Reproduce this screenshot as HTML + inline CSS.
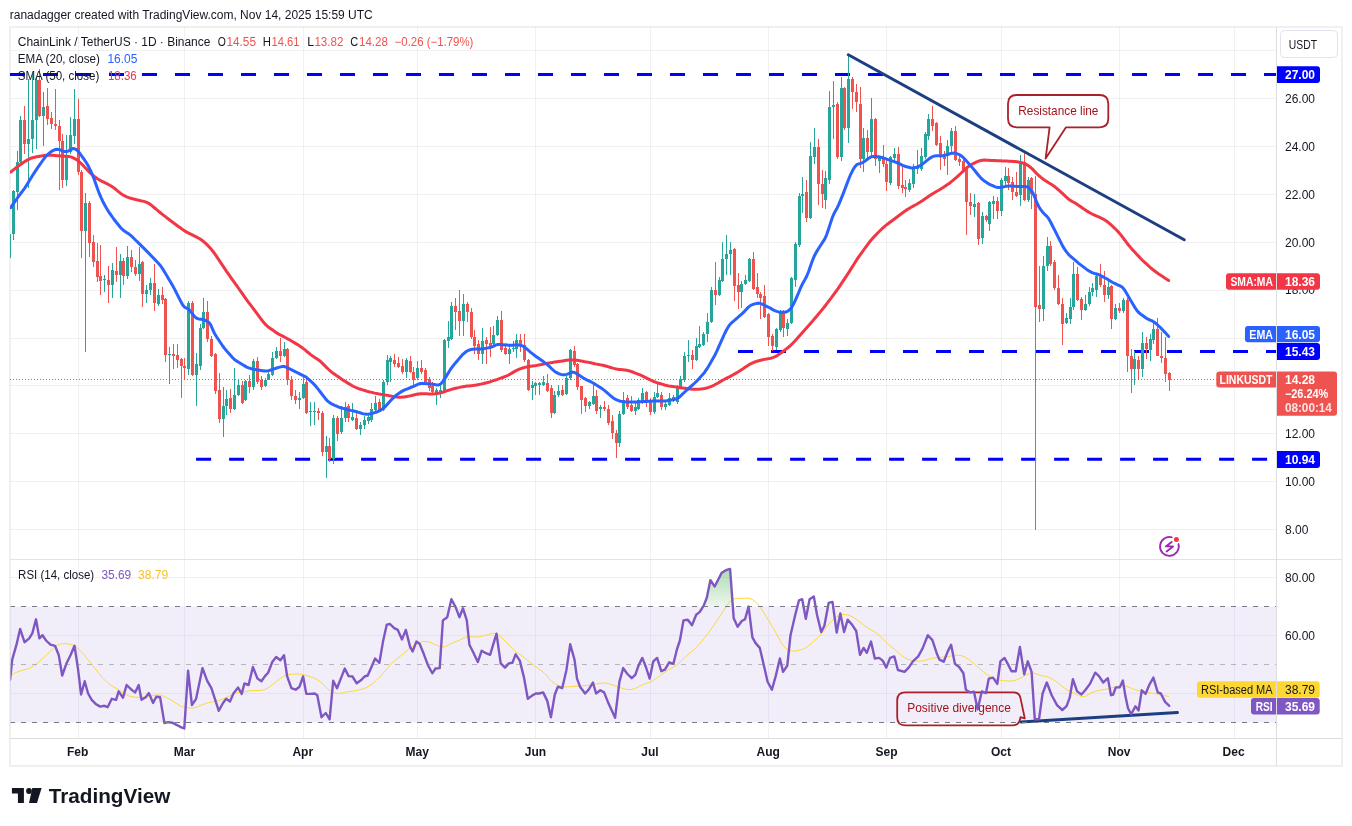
<!DOCTYPE html>
<html><head><meta charset="utf-8"><title>LINKUSDT chart</title>
<style>html,body{margin:0;padding:0;background:#fff;}body{width:1352px;height:826px;overflow:hidden;position:relative;}</style>
</head><body>
<svg width="1352" height="826" viewBox="0 0 1352 826" style="position:absolute;left:0;top:0;will-change:transform" font-family='"Liberation Sans", Arial, sans-serif'><defs><clipPath id="cp"><rect x="10" y="27.0" width="1266.0" height="532.0"/></clipPath><clipPath id="cr"><rect x="10.5" y="560.0" width="1265.5" height="178.0"/></clipPath><linearGradient id="ob" x1="0" y1="0" x2="0" y2="1"><stop offset="0" stop-color="#4caf50" stop-opacity="0.45"/><stop offset="1" stop-color="#4caf50" stop-opacity="0"/></linearGradient></defs><rect x="0" y="0" width="1352" height="826" fill="#fff"/><rect x="10" y="27" width="1332" height="739" fill="none" stroke="#f0f0f0" stroke-width="2"/><path d="M78.5 26.5V738.5 M184.5 26.5V738.5 M303.5 26.5V738.5 M417.5 26.5V738.5 M535.5 26.5V738.5 M650.5 26.5V738.5 M768.5 26.5V738.5 M886.5 26.5V738.5 M1001.5 26.5V738.5 M1119.5 26.5V738.5 M1234.5 26.5V738.5 M10 529.5H1276.5 M10 481.5H1276.5 M10 433.5H1276.5 M10 385.5H1276.5 M10 338.5H1276.5 M10 290.5H1276.5 M10 242.5H1276.5 M10 194.5H1276.5 M10 146.5H1276.5 M10 98.5H1276.5 M10 50.5H1276.5 M10 577.5H1276.5 M10 635.5H1276.5 M10 693.5H1276.5" stroke="#2a2e39" stroke-opacity="0.065" stroke-width="1" fill="none"/><rect x="10" y="606.5" width="1266.5" height="116.0" fill="#7e57c2" fill-opacity="0.1"/><path d="M78.5 606.5V722.5 M184.5 606.5V722.5 M303.5 606.5V722.5 M417.5 606.5V722.5 M535.5 606.5V722.5 M650.5 606.5V722.5 M768.5 606.5V722.5 M886.5 606.5V722.5 M1001.5 606.5V722.5 M1119.5 606.5V722.5 M1234.5 606.5V722.5" stroke="#e6e1f2" stroke-width="1"/><path d="M10 635.5H1276.5 M10 693.5H1276.5" stroke="#e6e1f2" stroke-width="1"/><g clip-path="url(#cp)"><line x1="10" y1="74.5" x2="1276.5" y2="74.5" stroke="#0000ff" stroke-width="3" stroke-dasharray="15 18"/><line x1="738" y1="351.5" x2="1276.5" y2="351.5" stroke="#0000ff" stroke-width="3" stroke-dasharray="15 18"/><line x1="196.1" y1="459.3" x2="1276.5" y2="459.3" stroke="#0000ff" stroke-width="3" stroke-dasharray="15 18"/><line x1="10" y1="379.5" x2="1276.5" y2="379.5" stroke="#ef5350" stroke-width="1" stroke-dasharray="1 2"/><path d="M9.5 232V258 M13.5 190V240 M17.5 151V210 M20.5 116V163 M28.5 79V188 M32.5 74V153 M36.5 77V149 M43.5 92V146 M66.5 135V186 M70.5 117V154 M74.5 89V144 M85.5 193V352 M104.5 275V292 M112.5 263V298 M120.5 254V298 M127.5 246V279 M139.5 247V281 M146.5 285V303 M150.5 278V295 M158.5 289V306 M169.5 347V384 M188.5 301V375 M196.5 353V406 M200.5 324V370 M203.5 298V329 M223.5 387V437 M226.5 390V415 M234.5 368V410 M238.5 380V396 M245.5 380V401 M253.5 359V390 M265.5 378V387 M268.5 372V380 M272.5 352V376 M276.5 347V359 M284.5 342V357 M299.5 392V409 M303.5 376V399 M310.5 402V426 M314.5 402V425 M326.5 436V478 M333.5 415V464 M341.5 406V434 M345.5 402V422 M352.5 403V421 M360.5 422V435 M364.5 416V429 M368.5 415V424 M371.5 403V422 M375.5 396V411 M383.5 380V411 M387.5 355V385 M390.5 356V382 M406.5 358V378 M417.5 361V380 M436.5 388V405 M440.5 383V398 M444.5 339V392 M448.5 321V348 M451.5 302V340 M463.5 294V336 M482.5 328V364 M493.5 326V346 M497.5 316V336 M509.5 346V364 M513.5 341V352 M516.5 334V358 M532.5 381V400 M535.5 382V395 M539.5 382V395 M543.5 376V386 M554.5 391V414 M558.5 385V397 M566.5 376V395 M570.5 349V380 M589.5 401V409 M593.5 382V405 M600.5 405V418 M619.5 411V447 M623.5 392V415 M635.5 402V415 M638.5 398V410 M642.5 388V404 M654.5 392V414 M657.5 384V398 M665.5 402V410 M669.5 393V406 M677.5 385V404 M680.5 376V389 M684.5 352V382 M688.5 340V362 M696.5 338V361 M699.5 326V348 M703.5 332V346 M707.5 313V342 M711.5 287V323 M719.5 277V296 M722.5 242V282 M726.5 235V275 M730.5 242V275 M741.5 281V308 M745.5 275V285 M749.5 258V282 M776.5 328V350 M780.5 310V332 M787.5 319V336 M791.5 277V324 M795.5 242V287 M799.5 193V247 M802.5 177V213 M810.5 142V219 M814.5 128V164 M825.5 171V209 M829.5 91V184 M833.5 81V139 M841.5 77V161 M848.5 54V143 M863.5 128V172 M871.5 98V158 M879.5 157V173 M890.5 156V185 M894.5 148V162 M909.5 179V192 M913.5 164V188 M917.5 150V174 M921.5 148V171 M925.5 132V159 M928.5 114V140 M947.5 140V175 M951.5 128V152 M974.5 194V217 M982.5 212V244 M989.5 201V231 M993.5 196V219 M1001.5 178V216 M1005.5 167V185 M1020.5 155V206 M1028.5 177V202 M1043.5 256V321 M1047.5 237V271 M1066.5 313V324 M1070.5 298V324 M1073.5 262V310 M1085.5 295V311 M1089.5 287V306 M1092.5 283V296 M1096.5 273V297 M1108.5 278V299 M1115.5 304V320 M1123.5 298V313 M1134.5 351V385 M1142.5 332V377 M1150.5 334V361 M1153.5 322V344" stroke="#26a69a" stroke-width="1"/><path d="M24.5 106V154 M39.5 69V117 M47.5 88V125 M51.5 112V129 M55.5 89V130 M59.5 120V190 M62.5 134V188 M78.5 99V175 M81.5 170V258 M89.5 201V257 M93.5 235V267 M97.5 243V282 M100.5 245V295 M108.5 266V303 M116.5 247V282 M123.5 258V285 M131.5 250V272 M135.5 260V276 M142.5 261V307 M154.5 264V311 M162.5 287V304 M165.5 298V362 M173.5 344V369 M177.5 344V368 M181.5 358V398 M184.5 358V379 M192.5 301V376 M207.5 301V342 M211.5 336V357 M215.5 353V394 M219.5 373V423 M230.5 389V413 M242.5 381V404 M249.5 375V393 M257.5 357V384 M261.5 376V390 M280.5 338V362 M287.5 348V385 M291.5 376V400 M295.5 390V404 M306.5 377V414 M318.5 408V420 M322.5 411V456 M329.5 438V462 M337.5 416V441 M348.5 404V422 M356.5 413V430 M379.5 399V410 M394.5 354V367 M398.5 357V368 M402.5 359V374 M410.5 356V373 M413.5 367V388 M421.5 360V374 M425.5 368V383 M429.5 377V391 M432.5 382V395 M455.5 298V330 M459.5 290V336 M467.5 302V322 M471.5 308V339 M474.5 330V354 M478.5 340V360 M486.5 337V364 M490.5 327V357 M501.5 311V352 M505.5 343V355 M520.5 334V352 M524.5 334V362 M528.5 359V391 M547.5 374V392 M551.5 385V418 M562.5 385V396 M574.5 346V367 M577.5 363V390 M581.5 386V414 M585.5 397V412 M596.5 390V414 M604.5 401V411 M608.5 405V425 M612.5 415V439 M616.5 430V458 M627.5 395V409 M631.5 396V412 M646.5 391V407 M650.5 398V415 M661.5 392V410 M673.5 395V402 M692.5 350V369 M715.5 262V305 M734.5 248V301 M738.5 273V309 M753.5 252V290 M757.5 273V298 M760.5 292V319 M764.5 285V318 M768.5 313V346 M772.5 334V351 M783.5 310V337 M806.5 180V222 M818.5 139V205 M822.5 170V208 M837.5 102V159 M844.5 87V130 M852.5 77V109 M856.5 84V112 M860.5 87V168 M867.5 130V159 M875.5 118V166 M883.5 145V167 M886.5 158V191 M898.5 147V189 M902.5 164V193 M905.5 180V197 M932.5 106V131 M936.5 122V146 M940.5 136V170 M944.5 151V166 M955.5 126V161 M959.5 155V166 M963.5 159V171 M966.5 166V235 M970.5 193V215 M978.5 202V245 M986.5 215V222 M997.5 197V219 M1008.5 168V190 M1012.5 177V200 M1016.5 172V197 M1024.5 153V201 M1031.5 177V209 M1035.5 176V530 M1039.5 266V322 M1050.5 241V266 M1054.5 260V290 M1058.5 275V305 M1062.5 298V345 M1077.5 267V301 M1081.5 297V320 M1100.5 264V287 M1104.5 271V302 M1111.5 285V329 M1119.5 303V313 M1127.5 298V372 M1131.5 349V393 M1138.5 356V380 M1146.5 337V359 M1157.5 318V356 M1161.5 332V363 M1165.5 337V382 M1169.5 372V391" stroke="#ef5350" stroke-width="1"/><path d="M8 234h3v24h-3z M12 191h3v43h-3z M16 162h3v30h-3z M19 120h3v42h-3z M27 139h3v5h-3z M31 120h3v19h-3z M35 80h3v40h-3z M42 107h3v9h-3z M65 155h3v25h-3z M69 135h3v17h-3z M73 119h3v17h-3z M84 203h3v28h-3z M103 279h3v1h-3z M111 270h3v15h-3z M119 261h3v14h-3z M126 257h3v19h-3z M138 264h3v10h-3z M145 290h3v4h-3z M149 283h3v7h-3z M157 295h3v9h-3z M168 354h3v1h-3z M187 303h3v66h-3z M195 364h3v11h-3z M199 328h3v38h-3z M202 312h3v16h-3z M222 406h3v13h-3z M225 399h3v7h-3z M233 395h3v14h-3z M237 385h3v10h-3z M244 381h3v19h-3z M252 361h3v26h-3z M264 380h3v6h-3z M267 374h3v6h-3z M271 358h3v17h-3z M275 351h3v7h-3z M283 349h3v7h-3z M298 398h3v2h-3z M302 384h3v14h-3z M309 411h3v1h-3z M313 411h3v1h-3z M325 446h3v6h-3z M332 418h3v41h-3z M340 418h3v14h-3z M344 407h3v11h-3z M351 417h3v3h-3z M359 425h3v4h-3z M363 420h3v5h-3z M367 417h3v4h-3z M370 409h3v11h-3z M374 403h3v7h-3z M382 382h3v28h-3z M386 360h3v22h-3z M389 358h3v4h-3z M405 360h3v12h-3z M416 368h3v10h-3z M435 390h3v5h-3z M439 390h3v2h-3z M443 340h3v51h-3z M447 337h3v4h-3z M450 306h3v33h-3z M462 304h3v17h-3z M481 341h3v13h-3z M492 335h3v9h-3z M496 320h3v15h-3z M508 349h3v5h-3z M512 348h3v1h-3z M515 340h3v9h-3z M531 385h3v3h-3z M534 383h3v3h-3z M538 383h3v2h-3z M542 382h3v3h-3z M553 395h3v18h-3z M557 391h3v4h-3z M565 378h3v16h-3z M569 350h3v28h-3z M588 402h3v4h-3z M592 396h3v8h-3z M599 407h3v2h-3z M618 414h3v29h-3z M622 400h3v14h-3z M634 407h3v4h-3z M637 400h3v9h-3z M641 393h3v9h-3z M653 397h3v15h-3z M656 393h3v4h-3z M664 404h3v3h-3z M668 398h3v7h-3z M676 386h3v16h-3z M679 379h3v9h-3z M683 356h3v24h-3z M687 355h3v1h-3z M695 346h3v14h-3z M698 344h3v3h-3z M702 334h3v11h-3z M706 322h3v12h-3z M710 290h3v32h-3z M718 280h3v15h-3z M721 259h3v22h-3z M725 254h3v5h-3z M729 250h3v4h-3z M740 284h3v8h-3z M744 280h3v4h-3z M748 259h3v22h-3z M775 329h3v18h-3z M779 312h3v18h-3z M786 323h3v6h-3z M790 278h3v45h-3z M794 244h3v36h-3z M798 196h3v49h-3z M801 194h3v2h-3z M809 156h3v62h-3z M813 147h3v10h-3z M824 178h3v22h-3z M828 107h3v73h-3z M832 105h3v2h-3z M840 88h3v69h-3z M847 79h3v49h-3z M862 138h3v21h-3z M870 119h3v33h-3z M878 158h3v3h-3z M889 157h3v26h-3z M893 154h3v4h-3z M908 183h3v7h-3z M912 168h3v16h-3z M916 166h3v3h-3z M920 156h3v13h-3z M924 134h3v23h-3z M927 119h3v17h-3z M946 146h3v10h-3z M950 131h3v15h-3z M973 204h3v3h-3z M981 216h3v22h-3z M988 202h3v22h-3z M992 201h3v3h-3z M1000 180h3v31h-3z M1004 176h3v5h-3z M1019 162h3v33h-3z M1027 180h3v20h-3z M1042 266h3v43h-3z M1046 246h3v20h-3z M1065 318h3v5h-3z M1069 307h3v12h-3z M1072 274h3v33h-3z M1084 304h3v6h-3z M1088 292h3v12h-3z M1091 288h3v4h-3z M1095 276h3v14h-3z M1107 287h3v8h-3z M1114 308h3v11h-3z M1122 300h3v11h-3z M1133 359h3v10h-3z M1141 343h3v26h-3z M1149 339h3v11h-3z M1152 329h3v11h-3z" fill="#26a69a"/><path d="M23 120h3v24h-3z M38 80h3v36h-3z M46 106h3v13h-3z M50 118h3v6h-3z M54 124h3v2h-3z M58 126h3v15h-3z M61 141h3v39h-3z M77 119h3v53h-3z M80 172h3v59h-3z M88 203h3v40h-3z M92 242h3v20h-3z M96 261h3v16h-3z M99 276h3v5h-3z M107 280h3v5h-3z M115 271h3v4h-3z M122 261h3v15h-3z M130 257h3v10h-3z M134 267h3v7h-3z M141 262h3v32h-3z M153 283h3v20h-3z M161 295h3v5h-3z M164 299h3v56h-3z M172 354h3v2h-3z M176 355h3v5h-3z M180 359h3v7h-3z M183 366h3v2h-3z M191 303h3v72h-3z M206 312h3v27h-3z M210 339h3v17h-3z M214 354h3v37h-3z M218 390h3v29h-3z M229 398h3v11h-3z M241 385h3v18h-3z M248 381h3v6h-3z M256 361h3v21h-3z M260 380h3v7h-3z M279 351h3v5h-3z M286 349h3v31h-3z M290 380h3v16h-3z M294 396h3v4h-3z M305 382h3v31h-3z M317 411h3v2h-3z M321 413h3v39h-3z M328 446h3v13h-3z M336 418h3v16h-3z M347 406h3v12h-3z M355 418h3v11h-3z M378 402h3v8h-3z M393 360h3v4h-3z M397 363h3v4h-3z M401 366h3v6h-3z M409 361h3v11h-3z M412 372h3v8h-3z M420 368h3v4h-3z M424 370h3v12h-3z M428 379h3v9h-3z M431 386h3v6h-3z M454 306h3v6h-3z M458 311h3v10h-3z M466 304h3v8h-3z M470 312h3v25h-3z M473 337h3v9h-3z M477 344h3v10h-3z M485 340h3v4h-3z M489 343h3v3h-3z M500 320h3v30h-3z M504 348h3v6h-3z M519 340h3v5h-3z M523 345h3v15h-3z M527 360h3v30h-3z M546 383h3v8h-3z M550 388h3v25h-3z M561 390h3v5h-3z M573 351h3v14h-3z M576 364h3v23h-3z M580 386h3v14h-3z M584 398h3v8h-3z M595 396h3v15h-3z M603 407h3v2h-3z M607 409h3v14h-3z M611 421h3v12h-3z M615 433h3v10h-3z M626 398h3v9h-3z M630 405h3v6h-3z M645 392h3v8h-3z M649 400h3v12h-3z M660 395h3v12h-3z M672 397h3v4h-3z M691 355h3v5h-3z M714 290h3v5h-3z M733 249h3v37h-3z M737 285h3v7h-3z M752 259h3v30h-3z M756 287h3v7h-3z M759 294h3v4h-3z M763 296h3v21h-3z M767 314h3v23h-3z M771 336h3v10h-3z M782 312h3v16h-3z M805 192h3v26h-3z M817 147h3v37h-3z M821 184h3v10h-3z M836 104h3v53h-3z M843 88h3v40h-3z M851 79h3v13h-3z M855 92h3v10h-3z M859 104h3v55h-3z M866 138h3v14h-3z M874 119h3v40h-3z M882 158h3v6h-3z M885 164h3v18h-3z M897 154h3v32h-3z M901 185h3v3h-3z M904 187h3v2h-3z M931 119h3v7h-3z M935 123h3v22h-3z M939 143h3v14h-3z M943 155h3v4h-3z M954 131h3v29h-3z M958 159h3v3h-3z M962 161h3v9h-3z M965 169h3v33h-3z M969 202h3v4h-3z M977 203h3v36h-3z M985 216h3v4h-3z M996 201h3v10h-3z M1007 176h3v7h-3z M1011 182h3v10h-3z M1015 192h3v4h-3z M1023 162h3v38h-3z M1030 178h3v16h-3z M1034 194h3v113h-3z M1038 305h3v4h-3z M1049 246h3v18h-3z M1053 262h3v26h-3z M1057 288h3v16h-3z M1061 304h3v20h-3z M1076 274h3v26h-3z M1080 299h3v11h-3z M1099 277h3v8h-3z M1103 285h3v10h-3z M1110 286h3v33h-3z M1118 308h3v3h-3z M1126 300h3v56h-3z M1130 356h3v13h-3z M1137 360h3v9h-3z M1145 343h3v6h-3z M1156 329h3v27h-3z M1160 356h3v2h-3z M1164 358h3v16h-3z M1168 373h3v7h-3z" fill="#ef5350"/><path d="M10.7 172.0 12.7 170.4 14.7 168.8 16.7 167.2 18.7 165.7 20.7 164.3 22.7 162.9 24.7 161.6 26.7 160.4 28.7 159.3 30.7 158.3 32.7 157.7 34.7 157.2 36.7 156.8 38.7 156.4 40.7 156.1 42.7 155.7 44.7 155.5 46.7 155.3 48.7 155.2 50.7 155.2 52.7 155.3 54.7 155.5 56.7 155.7 58.7 155.8 60.7 156.0 62.7 156.1 64.7 156.2 66.7 156.2 68.7 156.5 70.7 156.9 72.7 157.6 74.7 158.6 76.7 159.8 78.7 161.3 80.7 163.1 82.7 165.0 84.7 167.2 86.7 169.3 88.7 171.4 90.7 173.3 92.7 175.1 94.7 176.7 96.7 178.2 98.7 179.5 100.7 180.6 102.7 181.7 104.7 182.7 106.7 183.7 108.7 184.7 110.7 185.8 112.7 187.1 114.7 188.5 116.7 190.2 118.7 191.8 120.7 193.4 122.7 194.7 124.7 195.9 126.7 196.8 128.7 197.6 130.7 198.2 132.7 198.8 134.7 199.3 136.7 199.8 138.7 200.2 140.7 200.7 142.7 201.1 144.7 201.6 146.7 202.3 148.7 203.3 150.7 204.7 152.7 206.3 154.7 208.0 156.7 209.7 158.7 211.3 160.7 213.0 162.7 214.6 164.7 216.1 166.7 217.7 168.7 219.2 170.7 220.7 172.7 222.2 174.7 223.7 176.7 225.2 178.7 226.7 180.7 228.1 182.7 229.6 184.7 230.9 186.7 232.1 188.7 233.1 190.7 234.1 192.7 235.1 194.7 236.1 196.7 237.1 198.7 238.2 200.7 239.4 202.7 240.8 204.7 242.5 206.7 244.4 208.7 246.4 210.7 248.6 212.7 251.0 214.7 253.7 216.7 256.7 218.7 259.6 220.7 262.6 222.7 265.6 224.7 268.6 226.7 271.6 228.7 274.4 230.7 277.3 232.7 280.1 234.7 282.9 236.7 285.7 238.7 288.5 240.7 291.3 242.7 294.2 244.7 297.1 246.7 299.9 248.7 302.6 250.7 305.2 252.7 307.8 254.7 310.5 256.7 313.1 258.7 315.9 260.7 318.6 262.7 321.2 264.7 323.6 266.7 325.6 268.7 327.3 270.7 328.7 272.7 330.1 274.7 331.5 276.7 332.9 278.7 334.1 280.7 335.2 282.7 336.2 284.7 337.2 286.7 338.3 288.7 339.3 290.7 340.5 292.7 341.7 294.7 342.9 296.7 344.1 298.7 345.3 300.7 346.7 302.7 348.1 304.7 349.7 306.7 351.3 308.7 353.0 310.7 354.6 312.7 356.1 314.7 357.4 316.7 358.7 318.7 360.0 320.7 361.7 322.7 363.6 324.7 365.6 326.7 367.6 328.7 369.5 330.7 371.3 332.7 372.9 334.7 374.3 336.7 375.7 338.7 377.1 340.7 378.5 342.7 379.9 344.7 381.1 346.7 382.4 348.7 383.6 350.7 384.8 352.7 386.0 354.7 387.0 356.7 387.9 358.7 388.7 360.7 389.3 362.7 389.9 364.7 390.5 366.7 391.1 368.7 391.7 370.7 392.1 372.7 392.6 374.7 393.1 376.7 393.5 378.7 393.9 380.7 394.3 382.7 394.6 384.7 394.9 386.7 395.3 388.7 395.6 390.7 396.0 392.7 396.4 394.7 396.7 396.7 397.0 398.7 397.2 400.7 397.2 402.7 397.1 404.7 396.9 406.7 396.6 408.7 396.1 410.7 395.7 412.7 395.2 414.7 394.7 416.7 394.3 418.7 394.0 420.7 393.8 422.7 393.7 424.7 393.8 426.7 393.8 428.7 393.9 430.7 394.0 432.7 393.9 434.7 393.8 436.7 393.6 438.7 393.3 440.7 392.8 442.7 392.3 444.7 391.6 446.7 390.9 448.7 390.2 450.7 389.6 452.7 389.0 454.7 388.5 456.7 388.0 458.7 387.6 460.7 387.1 462.7 386.7 464.7 386.4 466.7 386.1 468.7 385.9 470.7 385.7 472.7 385.5 474.7 385.2 476.7 384.9 478.7 384.6 480.7 384.1 482.7 383.7 484.7 383.2 486.7 382.7 488.7 382.2 490.7 381.6 492.7 380.9 494.7 380.2 496.7 379.6 498.7 378.9 500.7 378.2 502.7 377.5 504.7 376.7 506.7 375.9 508.7 375.0 510.7 373.8 512.7 372.6 514.7 371.4 516.7 370.3 518.7 369.4 520.7 368.6 522.7 368.0 524.7 367.4 526.7 367.0 528.7 366.6 530.7 366.3 532.7 366.0 534.7 365.7 536.7 365.4 538.7 365.0 540.7 364.6 542.7 364.2 544.7 363.8 546.7 363.4 548.7 363.1 550.7 362.7 552.7 362.4 554.7 362.1 556.7 361.8 558.7 361.5 560.7 361.2 562.7 360.9 564.7 360.6 566.7 360.3 568.7 360.1 570.7 360.0 572.7 360.0 574.7 360.1 576.7 360.3 578.7 360.6 580.7 360.9 582.7 361.3 584.7 361.7 586.7 362.0 588.7 362.4 590.7 362.8 592.7 363.2 594.7 363.7 596.7 364.1 598.7 364.5 600.7 364.9 602.7 365.3 604.7 365.8 606.7 366.3 608.7 366.9 610.7 367.5 612.7 368.1 614.7 368.6 616.7 369.1 618.7 369.4 620.7 369.6 622.7 369.8 624.7 370.0 626.7 370.3 628.7 370.7 630.7 371.3 632.7 372.0 634.7 372.8 636.7 373.6 638.7 374.4 640.7 375.2 642.7 376.1 644.7 377.1 646.7 378.1 648.7 379.1 650.7 380.1 652.7 381.0 654.7 381.8 656.7 382.6 658.7 383.2 660.7 383.8 662.7 384.4 664.7 385.0 666.7 385.5 668.7 385.9 670.7 386.2 672.7 386.5 674.7 386.8 676.7 387.0 678.7 387.4 680.7 387.7 682.7 388.0 684.7 388.3 686.7 388.6 688.7 388.9 690.7 389.1 692.7 389.2 694.7 389.3 696.7 389.3 698.7 389.2 700.7 389.1 702.7 388.8 704.7 388.5 706.7 388.0 708.7 387.4 710.7 386.7 712.7 385.8 714.7 384.8 716.7 383.7 718.7 382.6 720.7 381.4 722.7 380.3 724.7 379.2 726.7 378.2 728.7 377.2 730.7 376.1 732.7 375.0 734.7 373.9 736.7 372.7 738.7 371.5 740.7 370.2 742.7 368.9 744.7 367.5 746.7 366.2 748.7 364.9 750.7 363.8 752.7 362.8 754.7 362.0 756.7 361.3 758.7 360.7 760.7 360.2 762.7 359.8 764.7 359.4 766.7 359.0 768.7 358.6 770.7 358.2 772.7 357.6 774.7 356.9 776.7 355.9 778.7 354.6 780.7 353.1 782.7 351.7 784.7 350.2 786.7 348.6 788.7 347.0 790.7 345.3 792.7 343.3 794.7 341.2 796.7 339.0 798.7 336.8 800.7 334.6 802.7 332.3 804.7 330.1 806.7 327.8 808.7 325.6 810.7 323.3 812.7 320.9 814.7 318.6 816.7 316.2 818.7 313.8 820.7 311.4 822.7 309.0 824.7 306.5 826.7 303.9 828.7 301.2 830.7 298.6 832.7 295.9 834.7 293.2 836.7 290.5 838.7 287.6 840.7 284.7 842.7 281.7 844.7 278.7 846.7 275.7 848.7 272.6 850.7 269.4 852.7 266.2 854.7 263.0 856.7 259.9 858.7 256.9 860.7 254.1 862.7 251.3 864.7 248.5 866.7 245.8 868.7 243.1 870.7 240.5 872.7 238.2 874.7 236.1 876.7 234.0 878.7 232.0 880.7 230.0 882.7 228.1 884.7 226.4 886.7 224.7 888.7 223.2 890.7 221.7 892.7 220.2 894.7 218.7 896.7 217.2 898.7 215.7 900.7 214.2 902.7 212.7 904.7 211.3 906.7 209.9 908.7 208.7 910.7 207.5 912.7 206.4 914.7 205.3 916.7 204.2 918.7 203.0 920.7 201.8 922.7 200.5 924.7 199.1 926.7 197.7 928.7 196.3 930.7 194.9 932.7 193.7 934.7 192.5 936.7 191.3 938.7 190.2 940.7 189.0 942.7 187.7 944.7 186.4 946.7 185.1 948.7 183.7 950.7 182.2 952.7 180.6 954.7 178.9 956.7 177.2 958.7 175.4 960.7 173.5 962.7 171.6 964.7 169.6 966.7 167.9 968.7 166.3 970.7 165.0 972.7 163.8 974.7 162.8 976.7 161.9 978.7 161.1 980.7 160.5 982.7 160.2 984.7 160.1 986.7 160.2 988.7 160.3 990.7 160.4 992.7 160.5 994.7 160.6 996.7 160.7 998.7 160.7 1000.7 160.8 1002.7 160.9 1004.7 161.0 1006.7 161.1 1008.7 161.2 1010.7 161.3 1012.7 161.5 1014.7 161.6 1016.7 161.8 1018.7 162.1 1020.7 162.5 1022.7 163.0 1024.7 163.7 1026.7 164.7 1028.7 165.9 1030.7 167.5 1032.7 169.4 1034.7 171.5 1036.7 173.6 1038.7 175.5 1040.7 177.2 1042.7 178.8 1044.7 180.2 1046.7 181.5 1048.7 182.8 1050.7 184.0 1052.7 185.3 1054.7 186.7 1056.7 188.3 1058.7 190.0 1060.7 191.8 1062.7 193.7 1064.7 195.6 1066.7 197.5 1068.7 199.2 1070.7 200.6 1072.7 201.7 1074.7 202.8 1076.7 204.1 1078.7 205.4 1080.7 206.8 1082.7 208.3 1084.7 209.6 1086.7 210.9 1088.7 212.1 1090.7 213.2 1092.7 214.3 1094.7 215.2 1096.7 216.1 1098.7 216.9 1100.7 217.8 1102.7 218.8 1104.7 220.0 1106.7 221.3 1108.7 222.8 1110.7 224.5 1112.7 226.4 1114.7 228.3 1116.7 230.3 1118.7 232.4 1120.7 234.7 1122.7 237.3 1124.7 240.0 1126.7 242.7 1128.7 245.2 1130.7 247.6 1132.7 249.9 1134.7 252.1 1136.7 254.3 1138.7 256.4 1140.7 258.5 1142.7 260.5 1144.7 262.4 1146.7 264.2 1148.7 266.0 1150.7 267.8 1152.7 269.5 1154.7 271.0 1156.7 272.5 1158.7 273.9 1160.7 275.2 1162.7 276.5 1164.7 277.9 1166.7 279.2 1168.7 280.5 1168.7 280.5" stroke="#f23645" stroke-width="3" fill="none" stroke-linecap="round" stroke-linejoin="round"/><path d="M10.7 207.6 12.7 204.7 14.7 201.8 16.7 199.0 18.7 196.2 20.7 193.5 22.7 190.9 24.7 188.1 26.7 185.1 28.7 181.8 30.7 178.5 32.7 175.2 34.7 172.1 36.7 169.1 38.7 166.1 40.7 163.3 42.7 160.5 44.7 157.8 46.7 155.5 48.7 153.7 50.7 152.0 52.7 150.7 54.7 149.8 56.7 149.2 58.7 149.4 60.7 150.2 62.7 151.1 64.7 151.5 66.7 151.6 68.7 150.9 70.7 149.7 72.7 148.6 74.7 148.7 76.7 149.9 78.7 151.9 80.7 154.6 82.7 157.4 84.7 160.2 86.7 163.3 88.7 166.8 90.7 170.8 92.7 175.5 94.7 180.8 96.7 186.6 98.7 192.1 100.7 196.9 102.7 201.2 104.7 205.0 106.7 208.5 108.7 211.8 110.7 214.7 112.7 217.5 114.7 220.3 116.7 222.8 118.7 225.3 120.7 227.7 122.7 229.8 124.7 231.3 126.7 232.6 128.7 233.8 130.7 235.4 132.7 237.2 134.7 239.2 136.7 241.2 138.7 243.1 140.7 245.1 142.7 247.1 144.7 249.1 146.7 251.1 148.7 253.1 150.7 255.2 152.7 257.3 154.7 259.4 156.7 261.5 158.7 263.6 160.7 266.0 162.7 268.9 164.7 272.2 166.7 275.5 168.7 278.9 170.7 282.2 172.7 285.7 174.7 289.4 176.7 293.4 178.7 297.4 180.7 301.3 182.7 305.0 184.7 307.3 186.7 308.1 188.7 309.3 190.7 311.6 192.7 314.2 194.7 316.7 196.7 318.3 198.7 318.9 200.7 319.2 202.7 319.5 204.7 320.2 206.7 321.1 208.7 322.3 210.7 324.8 212.7 329.5 214.7 333.8 216.7 337.0 218.7 340.0 220.7 343.0 222.7 346.0 224.7 348.6 226.7 351.0 228.7 353.2 230.7 355.5 232.7 357.7 234.7 359.7 236.7 361.1 238.7 362.3 240.7 363.5 242.7 364.7 244.7 365.9 246.7 367.1 248.7 367.9 250.7 368.5 252.7 369.0 254.7 369.4 256.7 369.8 258.7 370.1 260.7 370.4 262.7 370.7 264.7 371.0 266.7 371.0 268.7 370.6 270.7 370.0 272.7 369.3 274.7 368.7 276.7 368.0 278.7 367.4 280.7 366.9 282.7 366.5 284.7 366.6 286.7 367.4 288.7 368.3 290.7 369.3 292.7 370.3 294.7 371.3 296.7 372.3 298.7 373.3 300.7 374.3 302.7 375.3 304.7 376.3 306.7 377.6 308.7 379.3 310.7 381.1 312.7 383.0 314.7 385.0 316.7 387.4 318.7 389.9 320.7 392.5 322.7 395.1 324.7 397.7 326.7 400.2 328.7 402.0 330.7 403.3 332.7 404.3 334.7 405.3 336.7 406.2 338.7 407.1 340.7 407.7 342.7 408.3 344.7 408.8 346.7 409.4 348.7 409.9 350.7 410.4 352.7 410.8 354.7 411.3 356.7 411.8 358.7 412.4 360.7 413.0 362.7 413.6 364.7 414.1 366.7 414.2 368.7 414.0 370.7 413.7 372.7 413.2 374.7 412.6 376.7 412.0 378.7 411.2 380.7 410.1 382.7 408.7 384.7 407.1 386.7 405.0 388.7 402.7 390.7 400.5 392.7 398.5 394.7 396.5 396.7 394.8 398.7 393.4 400.7 392.1 402.7 390.9 404.7 389.9 406.7 389.1 408.7 388.3 410.7 387.5 412.7 386.7 414.7 385.8 416.7 384.9 418.7 384.0 420.7 383.5 422.7 383.5 424.7 383.6 426.7 383.7 428.7 383.8 430.7 384.0 432.7 384.3 434.7 384.6 436.7 384.9 438.7 384.9 440.7 384.0 442.7 381.6 444.7 378.8 446.7 375.6 448.7 372.2 450.7 369.0 452.7 366.3 454.7 363.9 456.7 361.5 458.7 359.1 460.7 356.7 462.7 354.5 464.7 352.8 466.7 351.3 468.7 350.2 470.7 349.6 472.7 349.3 474.7 349.1 476.7 349.1 478.7 349.1 480.7 349.0 482.7 348.8 484.7 348.5 486.7 348.1 488.7 347.7 490.7 347.2 492.7 346.6 494.7 345.7 496.7 344.7 498.7 344.5 500.7 344.6 502.7 344.8 504.7 345.0 506.7 345.1 508.7 345.3 510.7 345.3 512.7 345.2 514.7 345.1 516.7 345.0 518.7 345.1 520.7 345.5 522.7 346.0 524.7 347.2 526.7 348.9 528.7 350.6 530.7 352.3 532.7 353.9 534.7 355.5 536.7 357.0 538.7 358.3 540.7 359.7 542.7 361.1 544.7 362.6 546.7 364.2 548.7 365.9 550.7 367.7 552.7 369.7 554.7 371.5 556.7 372.7 558.7 373.6 560.7 374.4 562.7 374.8 564.7 374.8 566.7 374.4 568.7 373.7 570.7 372.7 572.7 372.1 574.7 372.5 576.7 373.7 578.7 374.9 580.7 376.3 582.7 377.6 584.7 378.8 586.7 379.9 588.7 380.8 590.7 381.7 592.7 382.8 594.7 384.0 596.7 385.3 598.7 386.5 600.7 387.8 602.7 389.1 604.7 390.6 606.7 392.3 608.7 394.1 610.7 395.8 612.7 397.5 614.7 398.9 616.7 399.9 618.7 400.7 620.7 401.2 622.7 401.4 624.7 401.7 626.7 401.9 628.7 402.1 630.7 402.1 632.7 402.1 634.7 402.0 636.7 401.9 638.7 401.8 640.7 401.7 642.7 401.6 644.7 401.5 646.7 401.4 648.7 401.3 650.7 401.2 652.7 401.0 654.7 401.0 656.7 400.9 658.7 400.9 660.7 400.9 662.7 400.9 664.7 400.9 666.7 400.8 668.7 400.6 670.7 400.1 672.7 399.7 674.7 399.3 676.7 398.7 678.7 397.6 680.7 395.8 682.7 393.9 684.7 392.0 686.7 390.2 688.7 388.4 690.7 386.6 692.7 384.8 694.7 383.0 696.7 381.1 698.7 379.0 700.7 376.8 702.7 374.6 704.7 372.2 706.7 369.2 708.7 366.0 710.7 362.6 712.7 359.1 714.7 355.5 716.7 351.4 718.7 346.9 720.7 342.4 722.7 337.9 724.7 333.5 726.7 329.5 728.7 326.2 730.7 323.6 732.7 321.8 734.7 320.2 736.7 318.5 738.7 316.7 740.7 314.9 742.7 313.1 744.7 311.1 746.7 308.9 748.7 306.9 750.7 305.4 752.7 304.5 754.7 303.9 756.7 303.4 758.7 303.1 760.7 303.5 762.7 304.4 764.7 305.4 766.7 306.3 768.7 307.3 770.7 308.4 772.7 309.6 774.7 310.6 776.7 311.4 778.7 311.9 780.7 312.2 782.7 312.3 784.7 312.2 786.7 311.7 788.7 310.4 790.7 308.6 792.7 305.6 794.7 301.6 796.7 297.1 798.7 292.5 800.7 287.7 802.7 283.4 804.7 279.9 806.7 276.2 808.7 271.3 810.7 265.4 812.7 259.8 814.7 255.2 816.7 251.6 818.7 248.3 820.7 245.2 822.7 242.2 824.7 239.1 826.7 234.6 828.7 228.7 830.7 222.4 832.7 216.6 834.7 212.2 836.7 208.8 838.7 204.7 840.7 199.9 842.7 194.9 844.7 189.7 846.7 184.4 848.7 179.2 850.7 174.3 852.7 170.3 854.7 166.9 856.7 164.7 858.7 163.9 860.7 163.4 862.7 162.5 864.7 161.2 866.7 159.7 868.7 158.2 870.7 157.0 872.7 156.6 874.7 156.6 876.7 156.7 878.7 156.8 880.7 157.2 882.7 157.8 884.7 158.4 886.7 159.1 888.7 159.8 890.7 160.4 892.7 161.1 894.7 161.8 896.7 162.5 898.7 163.3 900.7 164.3 902.7 165.3 904.7 166.2 906.7 166.8 908.7 167.3 910.7 167.8 912.7 167.9 914.7 167.6 916.7 167.2 918.7 166.4 920.7 165.2 922.7 163.9 924.7 162.4 926.7 160.7 928.7 159.1 930.7 157.7 932.7 156.7 934.7 155.9 936.7 155.7 938.7 155.8 940.7 155.9 942.7 155.7 944.7 155.2 946.7 154.7 948.7 154.1 950.7 153.5 952.7 153.1 954.7 153.2 956.7 153.6 958.7 154.3 960.7 155.5 962.7 157.0 964.7 159.0 966.7 161.3 968.7 163.6 970.7 165.9 972.7 168.1 974.7 170.5 976.7 173.0 978.7 175.5 980.7 177.8 982.7 179.7 984.7 181.3 986.7 182.6 988.7 183.8 990.7 184.8 992.7 185.7 994.7 186.6 996.7 187.3 998.7 187.6 1000.7 187.4 1002.7 187.0 1004.7 186.6 1006.7 186.2 1008.7 186.1 1010.7 186.1 1012.7 186.2 1014.7 186.3 1016.7 186.4 1018.7 186.4 1020.7 186.4 1022.7 186.4 1024.7 186.4 1026.7 186.7 1028.7 187.9 1030.7 189.8 1032.7 192.7 1034.7 197.1 1036.7 202.2 1038.7 206.5 1040.7 209.6 1042.7 212.2 1044.7 214.3 1046.7 216.1 1048.7 218.7 1050.7 222.3 1052.7 226.2 1054.7 230.2 1056.7 234.2 1058.7 238.2 1060.7 242.2 1062.7 246.1 1064.7 249.4 1066.7 252.1 1068.7 254.6 1070.7 256.5 1072.7 258.1 1074.7 259.8 1076.7 261.5 1078.7 263.3 1080.7 264.9 1082.7 266.4 1084.7 267.9 1086.7 269.4 1088.7 270.7 1090.7 271.9 1092.7 272.9 1094.7 273.5 1096.7 274.0 1098.7 274.7 1100.7 275.6 1102.7 276.6 1104.7 277.7 1106.7 278.8 1108.7 280.1 1110.7 281.3 1112.7 282.5 1114.7 283.4 1116.7 284.4 1118.7 285.3 1120.7 286.2 1122.7 287.6 1124.7 290.2 1126.7 293.6 1128.7 297.0 1130.7 300.4 1132.7 303.8 1134.7 307.1 1136.7 310.2 1138.7 312.5 1140.7 314.2 1142.7 315.6 1144.7 317.0 1146.7 318.4 1148.7 319.5 1150.7 320.3 1152.7 321.2 1154.7 322.5 1156.7 324.2 1158.7 326.0 1160.7 327.9 1162.7 330.0 1164.7 332.1 1166.7 334.3 1168.7 336.5 1168.7 336.5" stroke="#2962ff" stroke-width="3" fill="none" stroke-linecap="round" stroke-linejoin="round"/><line x1="848.3" y1="54.7" x2="1184.2" y2="239.8" stroke="#1c3f82" stroke-width="3" stroke-linecap="round"/></g><path d="M1016.7 95 H1099.6 Q1108.3 95 1108.3 103.7 V118.6 Q1108.3 127.3 1099.6 127.3 H1066 L1045.6 158.6 L1049.6 127.3 H1016.7 Q1008 127.3 1008 118.6 V103.7 Q1008 95 1016.7 95 Z" fill="#fff" stroke="#a82228" stroke-width="1.8" stroke-linejoin="round"/><text x="1018.3" y="115.1" font-size="13" fill="#a0141e" textLength="80.1" lengthAdjust="spacingAndGlyphs" >Resistance line</text><path d="M1178.5 544 A9.4 9.4 0 1 1 1171.8 537.3" fill="none" stroke="#9c27b0" stroke-width="1.8" stroke-linecap="round"/><path d="M1171.6 541.9 L1165.9 546.4 H1173 L1166.6 551.4" fill="none" stroke="#9c27b0" stroke-width="1.9" stroke-linejoin="round" stroke-linecap="round"/><circle cx="1176.4" cy="539.5" r="2.5" fill="#f23645"/><g clip-path="url(#cr)"><clipPath id="obc"><rect x="700" y="560" width="40" height="46.5"/></clipPath><path d="M703.7 605.6 L706.8 597.7 L710.4 580.1 L714.7 586.5 L721.7 572.7 L725.9 570.2 L730.1 568.9 L733.7 618.3 L733.7 606.5 L703.7 606.5 Z" fill="url(#ob)" clip-path="url(#obc)"/><path d="M10.1 675.5 12.1 674.5 14.1 673.5 16.1 672.5 18.1 671.7 20.1 671.0 22.1 670.4 24.1 669.8 26.1 669.3 28.1 668.8 30.1 668.1 32.1 667.0 34.1 665.7 36.1 664.1 38.1 662.5 40.1 660.7 42.1 659.0 44.1 657.2 46.1 655.3 48.1 653.3 50.1 651.4 52.1 649.4 54.1 647.5 56.1 645.9 58.1 644.8 60.1 644.1 62.1 643.8 64.1 643.7 66.1 643.7 68.1 643.9 70.1 644.2 72.1 644.9 74.1 645.9 76.1 647.2 78.1 648.7 80.1 650.5 82.1 652.6 84.1 654.8 86.1 657.3 88.1 659.7 90.1 662.2 92.1 664.7 94.1 667.3 96.1 669.9 98.1 672.5 100.1 674.9 102.1 677.2 104.1 679.4 106.1 681.4 108.1 683.2 110.1 684.8 112.1 686.1 114.1 687.2 116.1 688.3 118.1 689.5 120.1 690.8 122.1 692.2 124.1 693.6 126.1 694.8 128.1 695.7 130.1 696.2 132.1 696.7 134.1 697.0 136.1 697.2 138.1 697.3 140.1 697.3 142.1 697.2 144.1 697.0 146.1 696.7 148.1 696.4 150.1 696.0 152.1 695.7 154.1 695.4 156.1 695.1 158.1 695.0 160.1 695.1 162.1 695.6 164.1 696.4 166.1 697.3 168.1 698.4 170.1 699.5 172.1 700.7 174.1 702.0 176.1 703.2 178.1 704.4 180.1 705.6 182.1 706.6 184.1 707.4 186.1 707.7 188.1 707.9 190.1 708.0 192.1 708.0 194.1 707.8 196.1 707.2 198.1 706.5 200.1 705.6 202.1 704.8 204.1 704.1 206.1 703.4 208.1 702.8 210.1 702.3 212.1 701.9 214.1 701.5 216.1 701.1 218.1 700.6 220.1 700.0 222.1 699.2 224.1 698.5 226.1 697.6 228.1 696.7 230.1 695.7 232.1 694.7 234.1 693.8 236.1 693.0 238.1 692.6 240.1 692.4 242.1 692.2 244.1 692.0 246.1 691.5 248.1 691.1 250.1 690.7 252.1 690.5 254.1 690.5 256.1 690.5 258.1 690.5 260.1 690.5 262.1 690.2 264.1 689.7 266.1 688.8 268.1 687.8 270.1 686.4 272.1 684.9 274.1 683.3 276.1 681.7 278.1 680.1 280.1 678.6 282.1 677.2 284.1 675.9 286.1 675.1 288.1 674.6 290.1 674.3 292.1 674.2 294.1 674.1 296.1 674.0 298.1 674.0 300.1 674.1 302.1 674.3 304.1 674.8 306.1 675.4 308.1 676.0 310.1 676.7 312.1 677.4 314.1 678.2 316.1 679.1 318.1 680.2 320.1 681.7 322.1 683.3 324.1 685.2 326.1 687.3 328.1 689.3 330.1 690.9 332.1 692.0 334.1 692.8 336.1 693.3 338.1 693.5 340.1 693.4 342.1 693.0 344.1 692.5 346.1 692.0 348.1 691.7 350.1 691.4 352.1 691.2 354.1 690.9 356.1 690.6 358.1 690.1 360.1 689.6 362.1 689.1 364.1 688.4 366.1 687.6 368.1 686.6 370.1 685.5 372.1 684.1 374.1 682.4 376.1 680.6 378.1 678.6 380.1 676.5 382.1 674.3 384.1 672.1 386.1 669.8 388.1 667.5 390.1 665.3 392.1 663.1 394.1 661.2 396.1 659.5 398.1 658.0 400.1 656.4 402.1 654.8 404.1 653.1 406.1 651.4 408.1 649.7 410.1 648.1 412.1 646.6 414.1 645.3 416.1 644.1 418.1 643.1 420.1 642.3 422.1 641.7 424.1 641.5 426.1 641.5 428.1 641.7 430.1 642.3 432.1 643.1 434.1 644.0 436.1 645.0 438.1 645.9 440.1 646.6 442.1 646.9 444.1 646.8 446.1 646.3 448.1 645.4 450.1 644.2 452.1 643.2 454.1 642.3 456.1 641.5 458.1 640.8 460.1 639.9 462.1 638.9 464.1 637.9 466.1 637.1 468.1 636.7 470.1 636.7 472.1 636.8 474.1 637.0 476.1 637.0 478.1 636.9 480.1 636.6 482.1 636.1 484.1 635.6 486.1 635.1 488.1 634.6 490.1 634.0 492.1 633.5 494.1 633.3 496.1 633.8 498.1 634.8 500.1 636.3 502.1 638.0 504.1 639.9 506.1 642.0 508.1 644.2 510.1 646.3 512.1 648.4 514.1 650.2 516.1 651.8 518.1 653.3 520.1 654.7 522.1 656.1 524.1 657.6 526.1 659.2 528.1 660.7 530.1 662.3 532.1 663.9 534.1 665.4 536.1 666.9 538.1 668.4 540.1 669.8 542.1 671.2 544.1 672.9 546.1 674.9 548.1 677.1 550.1 679.5 552.1 681.6 554.1 683.2 556.1 684.4 558.1 685.3 560.1 686.1 562.1 686.6 564.1 686.9 566.1 686.9 568.1 686.8 570.1 686.7 572.1 686.6 574.1 686.4 576.1 686.3 578.1 686.1 580.1 686.0 582.1 685.8 584.1 685.6 586.1 685.5 588.1 685.3 590.1 685.1 592.1 684.8 594.1 684.5 596.1 684.1 598.1 683.7 600.1 683.4 602.1 683.1 604.1 682.9 606.1 683.1 608.1 683.6 610.1 684.1 612.1 684.8 614.1 685.5 616.1 686.2 618.1 686.9 620.1 687.6 622.1 688.2 624.1 688.8 626.1 689.3 628.1 689.6 630.1 689.7 632.1 689.4 634.1 688.8 636.1 688.0 638.1 687.1 640.1 686.1 642.1 685.1 644.1 684.2 646.1 683.5 648.1 682.8 650.1 682.0 652.1 681.0 654.1 679.8 656.1 678.5 658.1 677.1 660.1 675.7 662.1 674.2 664.1 672.7 666.1 671.3 668.1 670.1 670.1 668.9 672.1 667.7 674.1 666.5 676.1 665.2 678.1 663.8 680.1 662.1 682.1 660.2 684.1 658.2 686.1 656.2 688.1 654.4 690.1 652.8 692.1 651.2 694.1 649.6 696.1 647.7 698.1 645.6 700.1 643.4 702.1 641.1 704.1 638.6 706.1 636.0 708.1 633.3 710.1 630.5 712.1 627.7 714.1 624.8 716.1 621.8 718.1 618.8 720.1 615.8 722.1 612.8 724.1 609.8 726.1 606.8 728.1 604.0 730.1 601.5 732.1 599.8 734.1 598.9 736.1 598.5 738.1 598.3 740.1 598.3 742.1 598.4 744.1 598.3 746.1 598.2 748.1 598.2 750.1 598.6 752.1 599.4 754.1 600.6 756.1 602.4 758.1 604.6 760.1 607.1 762.1 610.0 764.1 613.1 766.1 616.4 768.1 619.7 770.1 623.0 772.1 626.3 774.1 629.6 776.1 633.2 778.1 636.9 780.1 640.6 782.1 643.8 784.1 646.4 786.1 648.3 788.1 649.7 790.1 650.6 792.1 651.0 794.1 651.1 796.1 651.0 798.1 650.5 800.1 650.0 802.1 649.4 804.1 648.6 806.1 647.6 808.1 646.2 810.1 644.6 812.1 642.9 814.1 641.1 816.1 639.2 818.1 637.3 820.1 635.2 822.1 632.9 824.1 630.5 826.1 627.8 828.1 625.2 830.1 622.7 832.1 620.6 834.1 618.8 836.1 617.3 838.1 616.1 840.1 615.3 842.1 614.7 844.1 614.5 846.1 614.6 848.1 615.0 850.1 615.6 852.1 616.6 854.1 617.8 856.1 619.1 858.1 620.5 860.1 622.0 862.1 623.7 864.1 625.4 866.1 626.9 868.1 628.3 870.1 629.4 872.1 630.5 874.1 631.5 876.1 632.8 878.1 634.3 880.1 636.3 882.1 638.4 884.1 640.5 886.1 642.5 888.1 644.2 890.1 645.8 892.1 647.4 894.1 649.0 896.1 650.7 898.1 652.5 900.1 654.2 902.1 655.9 904.1 657.3 906.1 658.4 908.1 659.4 910.1 660.0 912.1 660.5 914.1 660.8 916.1 661.0 918.1 661.2 920.1 661.2 922.1 661.1 924.1 660.7 926.1 660.1 928.1 659.4 930.1 658.8 932.1 658.3 934.1 658.0 936.1 657.8 938.1 657.6 940.1 657.4 942.1 657.3 944.1 657.1 946.1 656.9 948.1 656.6 950.1 656.2 952.1 655.7 954.1 655.4 956.1 655.2 958.1 655.2 960.1 655.4 962.1 655.9 964.1 656.7 966.1 657.7 968.1 658.9 970.1 660.4 972.1 662.1 974.1 663.8 976.1 665.6 978.1 667.3 980.1 669.1 982.1 670.8 984.1 672.4 986.1 673.9 988.1 675.3 990.1 676.5 992.1 677.6 994.1 678.5 996.1 679.2 998.1 679.8 1000.1 680.2 1002.1 680.6 1004.1 680.8 1006.1 680.9 1008.1 681.0 1010.1 681.0 1012.1 681.0 1014.1 680.7 1016.1 680.1 1018.1 679.2 1020.1 678.2 1022.1 677.1 1024.1 676.0 1026.1 674.9 1028.1 673.9 1030.1 673.1 1032.1 672.8 1034.1 673.1 1036.1 673.8 1038.1 674.6 1040.1 675.2 1042.1 675.8 1044.1 676.2 1046.1 676.6 1048.1 677.2 1050.1 678.0 1052.1 679.0 1054.1 680.2 1056.1 681.5 1058.1 682.9 1060.1 684.6 1062.1 686.2 1064.1 687.8 1066.1 689.2 1068.1 690.3 1070.1 691.3 1072.1 692.3 1074.1 693.2 1076.1 694.3 1078.1 695.3 1080.1 696.2 1082.1 696.8 1084.1 696.7 1086.1 696.0 1088.1 694.7 1090.1 693.4 1092.1 692.4 1094.1 691.7 1096.1 691.1 1098.1 690.7 1100.1 690.2 1102.1 689.8 1104.1 689.5 1106.1 689.1 1108.1 688.7 1110.1 688.2 1112.1 687.7 1114.1 687.2 1116.1 686.7 1118.1 686.2 1120.1 685.8 1122.1 685.6 1124.1 685.7 1126.1 686.3 1128.1 687.0 1130.1 687.7 1132.1 688.5 1134.1 689.3 1136.1 690.0 1138.1 690.7 1140.1 691.2 1142.1 691.6 1144.1 691.9 1146.1 692.2 1148.1 692.5 1150.1 692.8 1152.1 693.1 1154.1 693.5 1156.1 693.8 1158.1 694.2 1160.1 694.7 1162.1 695.1 1164.1 695.5 1166.1 696.0 1168.1 696.4 1169.1 696.6" stroke="#fdd835" stroke-width="1" fill="none"/></g><path d="M905.2 692.4 H1013.4 Q1019.6 692.4 1020.6 698.6 L1024.8 718.5 L1020.5 717.2 Q1019.5 725.3 1013.4 725.3 H905.2 Q897.2 725.3 897.2 717.3 V700.4 Q897.2 692.4 905.2 692.4 Z" fill="none" stroke="#a82228" stroke-width="1.8" stroke-linejoin="round"/><text x="907.2" y="712.1" font-size="13" fill="#a0141e" textLength="103.7" lengthAdjust="spacingAndGlyphs" >Positive divergence</text><g clip-path="url(#cr)"><line x1="1021" y1="722" x2="1177.4" y2="712.5" stroke="#1c3f82" stroke-width="3" stroke-linecap="round"/><path d="M10.1 679.7 L12.2 659.6 L16.5 644.7 L20.1 628.9 L24.5 642.2 L29.2 638.4 L32.4 633.1 L36.0 619.3 L39.4 638.4 L42.5 635.2 L46.1 640.5 L50.4 644.7 L55.0 645.8 L58.8 655.3 L62.2 675.5 L66.3 663.8 L70.5 655.3 L74.5 645.8 L77.9 668.1 L81.1 694.5 L84.7 681.2 L88.1 693.5 L91.7 699.8 L95.9 704.1 L100.2 706.6 L104.4 705.8 L107.6 707.2 L111.8 698.8 L116.1 699.8 L118.6 691.4 L123.0 697.7 L126.6 685.0 L130.9 689.2 L135.1 692.4 L138.7 685.0 L141.5 699.8 L145.7 697.3 L148.9 693.1 L153.1 703.0 L156.3 696.7 L160.1 697.3 L164.4 723.1 L168.0 722.1 L172.2 722.7 L177.5 725.3 L181.3 727.4 L184.3 728.4 L188.1 670.6 L191.9 705.1 L196.1 698.8 L202.5 668.1 L207.2 680.8 L211.4 688.2 L215.2 699.8 L218.8 710.8 L223.0 703.0 L226.2 698.8 L230.0 701.5 L233.4 693.5 L238.1 687.5 L241.7 693.9 L244.4 683.5 L248.6 685.0 L252.9 667.0 L257.5 678.6 L261.4 681.2 L265.0 676.1 L268.1 672.7 L272.4 661.7 L276.2 657.0 L280.4 660.2 L284.0 655.3 L287.2 676.5 L291.4 688.2 L295.7 689.7 L299.5 686.7 L303.1 676.5 L306.3 693.9 L310.5 693.9 L314.7 693.5 L317.3 695.2 L321.5 717.2 L325.8 713.0 L329.6 719.3 L333.2 680.8 L337.0 688.2 L341.2 677.6 L344.8 668.5 L348.6 676.1 L352.5 676.5 L356.7 683.3 L360.9 680.3 L364.5 676.5 L367.7 675.5 L371.9 665.9 L375.1 658.5 L379.4 662.8 L383.0 641.6 L386.8 624.6 L390.0 624.0 L394.2 628.2 L397.8 629.9 L402.0 639.4 L405.8 629.9 L410.1 646.9 L412.6 651.5 L416.4 641.6 L419.6 643.7 L423.9 654.3 L428.1 665.5 L432.3 673.3 L435.5 668.5 L439.7 668.1 L442.9 620.4 L447.2 617.2 L451.4 599.2 L455.7 607.4 L459.4 617.2 L463.0 608.3 L466.8 620.4 L469.4 644.7 L473.2 652.2 L477.8 662.1 L481.7 650.7 L485.9 653.2 L490.1 654.9 L496.5 633.7 L500.7 663.4 L505.0 667.6 L508.8 663.4 L512.4 662.8 L515.6 654.3 L519.8 660.6 L524.0 677.6 L527.8 698.8 L532.1 695.6 L535.7 693.5 L539.3 693.5 L543.1 692.4 L547.3 700.9 L550.9 717.2 L554.8 694.5 L557.9 686.7 L562.2 688.2 L566.4 670.2 L570.2 644.3 L574.5 659.6 L577.0 678.6 L580.2 687.1 L585.1 693.5 L588.7 689.7 L592.9 682.5 L596.1 693.5 L600.3 690.3 L604.1 692.4 L608.8 704.1 L615.1 717.8 L619.4 681.8 L623.2 668.1 L627.4 674.0 L631.7 678.2 L635.3 674.8 L638.4 665.9 L642.3 657.9 L645.9 667.0 L649.7 678.6 L653.3 661.3 L657.1 657.9 L661.3 671.2 L664.9 669.7 L669.2 662.3 L673.4 663.8 L676.9 649.5 L679.9 640.5 L683.5 620.4 L687.8 619.7 L692.0 625.3 L696.2 614.7 L699.8 611.9 L703.7 605.6 L706.8 597.7 L710.4 580.1 L714.7 586.5 L721.7 572.7 L725.9 570.2 L730.1 568.9 L733.7 618.3 L737.6 626.7 L741.8 621.0 L745.0 619.3 L748.6 606.6 L752.4 637.3 L755.6 643.1 L759.8 647.9 L764.0 665.9 L767.6 681.8 L771.9 689.7 L775.7 676.1 L779.9 658.5 L783.1 671.9 L787.3 665.5 L790.5 635.2 L795.2 615.1 L799.0 600.3 L802.2 599.2 L805.8 618.9 L809.6 599.2 L813.8 596.4 L817.0 614.7 L821.2 632.0 L824.4 625.7 L828.7 602.8 L832.5 601.9 L836.7 632.5 L840.3 613.4 L844.1 632.0 L847.7 619.7 L852.0 624.6 L856.2 631.0 L860.0 654.9 L863.6 647.9 L866.8 652.8 L871.0 641.6 L874.8 658.5 L879.1 657.9 L882.7 660.6 L886.3 667.6 L890.1 657.9 L894.3 656.4 L897.9 670.0 L904.5 671.9 L908.7 667.6 L912.9 661.3 L918.2 656.4 L922.5 648.6 L927.8 635.2 L932.4 640.1 L936.7 653.2 L939.4 659.6 L943.7 661.7 L947.9 651.1 L951.1 644.7 L954.9 663.8 L959.1 667.0 L963.4 673.3 L965.9 689.7 L970.2 692.4 L974.0 691.8 L977.6 709.4 L981.8 691.4 L986.0 693.1 L988.8 678.6 L993.0 677.6 L997.3 683.9 L1000.4 661.3 L1004.5 657.9 L1008.3 664.9 L1011.5 671.2 L1015.7 671.2 L1019.9 646.9 L1024.2 674.4 L1027.8 661.3 L1031.6 671.9 L1034.8 719.3 L1039.0 719.3 L1042.6 693.5 L1046.8 682.5 L1051.7 695.2 L1057.0 705.1 L1062.3 710.0 L1066.6 706.2 L1069.7 697.7 L1072.9 679.1 L1077.1 691.4 L1081.4 694.5 L1085.6 689.7 L1089.9 683.9 L1095.2 672.7 L1099.0 676.1 L1103.2 682.5 L1107.9 678.2 L1111.0 695.2 L1113.2 694.5 L1115.8 687.4 L1119.8 687.3 L1122.9 680.6 L1125.3 695.6 L1128.0 708.3 L1131.2 714.2 L1135.4 706.2 L1138.6 710.4 L1141.8 690.3 L1145.6 693.9 L1149.2 685.0 L1153.4 677.6 L1157.7 692.4 L1160.8 693.5 L1165.1 701.9 L1169.3 705.8" stroke="#7e57c2" stroke-width="2.4" fill="none" stroke-linejoin="round" stroke-linecap="round" /><line x1="10" y1="606.5" x2="1276.5" y2="606.5" stroke="#787b86" stroke-width="1" stroke-dasharray="5 6"/><line x1="10" y1="722.5" x2="1276.5" y2="722.5" stroke="#787b86" stroke-width="1" stroke-dasharray="5 6"/><line x1="10" y1="664.5" x2="1276.5" y2="664.5" stroke="#787b86" stroke-opacity="0.5" stroke-width="1" stroke-dasharray="5 6"/></g><path d="M10 738.5H1342" stroke="#dedede" stroke-width="1" fill="none"/><path d="M10 559.5H1342" stroke="#e0e3eb" stroke-width="1" fill="none"/><text x="1285" y="534.0" font-size="12" fill="#131722">8.00</text><text x="1285" y="486.1" font-size="12" fill="#131722">10.00</text><text x="1285" y="438.1" font-size="12" fill="#131722">12.00</text><text x="1285" y="390.2" font-size="12" fill="#131722">14.00</text><text x="1285" y="342.3" font-size="12" fill="#131722">16.00</text><text x="1285" y="294.4" font-size="12" fill="#131722">18.00</text><text x="1285" y="246.5" font-size="12" fill="#131722">20.00</text><text x="1285" y="198.5" font-size="12" fill="#131722">22.00</text><text x="1285" y="150.6" font-size="12" fill="#131722">24.00</text><text x="1285" y="102.7" font-size="12" fill="#131722">26.00</text><text x="1285" y="581.6" font-size="12" fill="#131722">80.00</text><text x="1285" y="639.6" font-size="12" fill="#131722">60.00</text><rect x="1280.5" y="30.5" width="57" height="27" rx="4" fill="#fff" stroke="#e0e3eb"/><text x="1288.8" y="48.7" font-size="12" fill="#131722" textLength="28.2" lengthAdjust="spacingAndGlyphs" >USDT</text><path d="M1277 66.2 H1317 Q1320 66.2 1320 69.2 V80 Q1320 83 1317 83 H1277 Z" fill="#0000ff"/><text x="1285" y="78.8" font-size="12" font-weight="bold" fill="#fff">27.00</text><path d="M1277 343 H1317 Q1320 343 1320 346 V357 Q1320 360 1317 360 H1277 Z" fill="#0000ff"/><text x="1285" y="355.6" font-size="12" font-weight="bold" fill="#fff">15.43</text><path d="M1277 451 H1317 Q1320 451 1320 454 V465 Q1320 468 1317 468 H1277 Z" fill="#0000ff"/><text x="1285" y="463.6" font-size="12" font-weight="bold" fill="#fff">10.94</text><path d="M1229 273.3 H1276.5 V289.8 H1229 Q1226 289.8 1226 286.8 V276.3 Q1226 273.3 1229 273.3 Z" fill="#f23645"/><text x="1230.4" y="285.9" font-size="12" fill="#fff" font-weight="bold" textLength="42.6" lengthAdjust="spacingAndGlyphs" >SMA:MA</text><path d="M1276.5 273.3 H1317 Q1320 273.3 1320 276.3 V286.8 Q1320 289.8 1317 289.8 H1276.5 Z" fill="#f23645"/><text x="1285" y="285.8" font-size="12" font-weight="bold" fill="#fff">18.36</text><path d="M1248 326.1 H1276.5 V342.3 H1248 Q1245 342.3 1245 339.3 V329.1 Q1245 326.1 1248 326.1 Z" fill="#2962ff"/><text x="1249.3" y="338.6" font-size="12" fill="#fff" font-weight="bold" textLength="23.7" lengthAdjust="spacingAndGlyphs" >EMA</text><path d="M1276.5 326.1 H1317 Q1320 326.1 1320 329.1 V339.3 Q1320 342.3 1317 342.3 H1276.5 Z" fill="#2962ff"/><text x="1285" y="338.5" font-size="12" font-weight="bold" fill="#fff">16.05</text><path d="M1219.3 371.4 H1276.5 V387.6 H1219.3 Q1216.3 387.6 1216.3 384.6 V374.4 Q1216.3 371.4 1219.3 371.4 Z" fill="#ef5350"/><text x="1219.5" y="384.2" font-size="12" fill="#fff" font-weight="bold" textLength="53.0" lengthAdjust="spacingAndGlyphs" >LINKUSDT</text><path d="M1276.5 371.4 H1334 Q1337 371.4 1337 374.4 V412.7 Q1337 415.7 1334 415.7 H1276.5 Z" fill="#ef5350"/><text x="1285" y="384" font-size="12" font-weight="bold" fill="#fff">14.28</text><text x="1284.9" y="398.1" font-size="12" fill="#fff" font-weight="bold" textLength="43.4" lengthAdjust="spacingAndGlyphs" >−26.24%</text><text x="1284.9" y="411.9" font-size="12" fill="#fff" font-weight="bold" textLength="47.0" lengthAdjust="spacingAndGlyphs" fill-opacity="0.85">08:00:14</text><path d="M1200 681.2 H1276.5 V697.7 H1200 Q1197 697.7 1197 694.7 V684.2 Q1197 681.2 1200 681.2 Z" fill="#fdd835"/><text x="1201.0" y="693.9" font-size="12" fill="#131722" textLength="71.6" lengthAdjust="spacingAndGlyphs" >RSI-based MA</text><path d="M1276.5 681.2 H1316.7 Q1319.7 681.2 1319.7 684.2 V694.7 Q1319.7 697.7 1316.7 697.7 H1276.5 Z" fill="#fdd835"/><text x="1285" y="693.7" font-size="12" fill="#131722">38.79</text><path d="M1254 698.1 H1276.5 V714.6 H1254 Q1251 714.6 1251 711.6 V701.1 Q1251 698.1 1254 698.1 Z" fill="#7e57c2"/><text x="1255.7" y="710.8" font-size="12" fill="#fff" font-weight="bold" textLength="16.9" lengthAdjust="spacingAndGlyphs" >RSI</text><path d="M1276.5 698.1 H1316.7 Q1319.7 698.1 1319.7 701.1 V711.6 Q1319.7 714.6 1316.7 714.6 H1276.5 Z" fill="#7e57c2"/><text x="1285" y="710.6" font-size="12" font-weight="bold" fill="#fff">35.69</text><path d="M1276.5 27V766" stroke="#dedede" stroke-width="1" fill="none"/><text x="77.7" y="755.6" font-size="12" font-weight="bold" fill="#131722" text-anchor="middle">Feb</text><text x="184.5" y="755.6" font-size="12" font-weight="bold" fill="#131722" text-anchor="middle">Mar</text><text x="302.8" y="755.6" font-size="12" font-weight="bold" fill="#131722" text-anchor="middle">Apr</text><text x="417.2" y="755.6" font-size="12" font-weight="bold" fill="#131722" text-anchor="middle">May</text><text x="535.5" y="755.6" font-size="12" font-weight="bold" fill="#131722" text-anchor="middle">Jun</text><text x="649.9" y="755.6" font-size="12" font-weight="bold" fill="#131722" text-anchor="middle">Jul</text><text x="768.2" y="755.6" font-size="12" font-weight="bold" fill="#131722" text-anchor="middle">Aug</text><text x="886.5" y="755.6" font-size="12" font-weight="bold" fill="#131722" text-anchor="middle">Sep</text><text x="1000.9" y="755.6" font-size="12" font-weight="bold" fill="#131722" text-anchor="middle">Oct</text><text x="1119.2" y="755.6" font-size="12" font-weight="bold" fill="#131722" text-anchor="middle">Nov</text><text x="1233.6" y="755.6" font-size="12" font-weight="bold" fill="#131722" text-anchor="middle">Dec</text><text x="17.8" y="46.0" font-size="12" fill="#131722" textLength="192.6" lengthAdjust="spacingAndGlyphs" >ChainLink / TetherUS · 1D · Binance</text><text x="217.7" y="46.0" font-size="12" fill="#131722" textLength="8.1" lengthAdjust="spacingAndGlyphs" >O</text><text x="226.4" y="46.0" font-size="12" fill="#ef5350" textLength="29.6" lengthAdjust="spacingAndGlyphs" >14.55</text><text x="262.7" y="46.0" font-size="12" fill="#131722" textLength="8.2" lengthAdjust="spacingAndGlyphs" >H</text><text x="271.5" y="46.0" font-size="12" fill="#ef5350" textLength="28.0" lengthAdjust="spacingAndGlyphs" >14.61</text><text x="307.2" y="46.0" font-size="12" fill="#131722" textLength="6.8" lengthAdjust="spacingAndGlyphs" >L</text><text x="314.4" y="46.0" font-size="12" fill="#ef5350" textLength="29.0" lengthAdjust="spacingAndGlyphs" >13.82</text><text x="350.3" y="46.0" font-size="12" fill="#131722" textLength="8.0" lengthAdjust="spacingAndGlyphs" >C</text><text x="359.0" y="46.0" font-size="12" fill="#ef5350" textLength="28.9" lengthAdjust="spacingAndGlyphs" >14.28</text><text x="394.6" y="46.0" font-size="12" fill="#ef5350" textLength="78.8" lengthAdjust="spacingAndGlyphs" >−0.26 (−1.79%)</text><text x="17.8" y="62.9" font-size="12" fill="#131722" textLength="82.0" lengthAdjust="spacingAndGlyphs" >EMA (20, close)</text><text x="107.4" y="62.9" font-size="12" fill="#2962ff" textLength="30.0" lengthAdjust="spacingAndGlyphs" >16.05</text><text x="17.8" y="80.0" font-size="12" fill="#131722" textLength="81.5" lengthAdjust="spacingAndGlyphs" >SMA (50, close)</text><text x="107.9" y="80.0" font-size="12" fill="#f23645" textLength="28.9" lengthAdjust="spacingAndGlyphs" >18.36</text><text x="18.1" y="578.6" font-size="12" fill="#131722" textLength="76.0" lengthAdjust="spacingAndGlyphs" >RSI (14, close)</text><text x="101.5" y="578.6" font-size="12" fill="#7e57c2" textLength="29.7" lengthAdjust="spacingAndGlyphs" >35.69</text><text x="138.0" y="578.6" font-size="12" fill="#fbc02d" textLength="30.3" lengthAdjust="spacingAndGlyphs" >38.79</text><text x="9.8" y="18.7" font-size="12" fill="#131722" textLength="362.9" lengthAdjust="spacingAndGlyphs" >ranadagger created with TradingView.com, Nov 14, 2025 15:59 UTC</text><g fill="#131722"><path d="M11.9 787.9 H23.9 V803 H17.9 V793.6 H11.9 Z"/><circle cx="29" cy="791" r="2.9"/><path d="M32.3 787.9 H41.6 L37 803 H29 Z"/></g><text x="48.7" y="803.0" font-size="20.5" fill="#131722" font-weight="bold" textLength="121.6" lengthAdjust="spacingAndGlyphs" >TradingView</text></svg>
</body></html>
